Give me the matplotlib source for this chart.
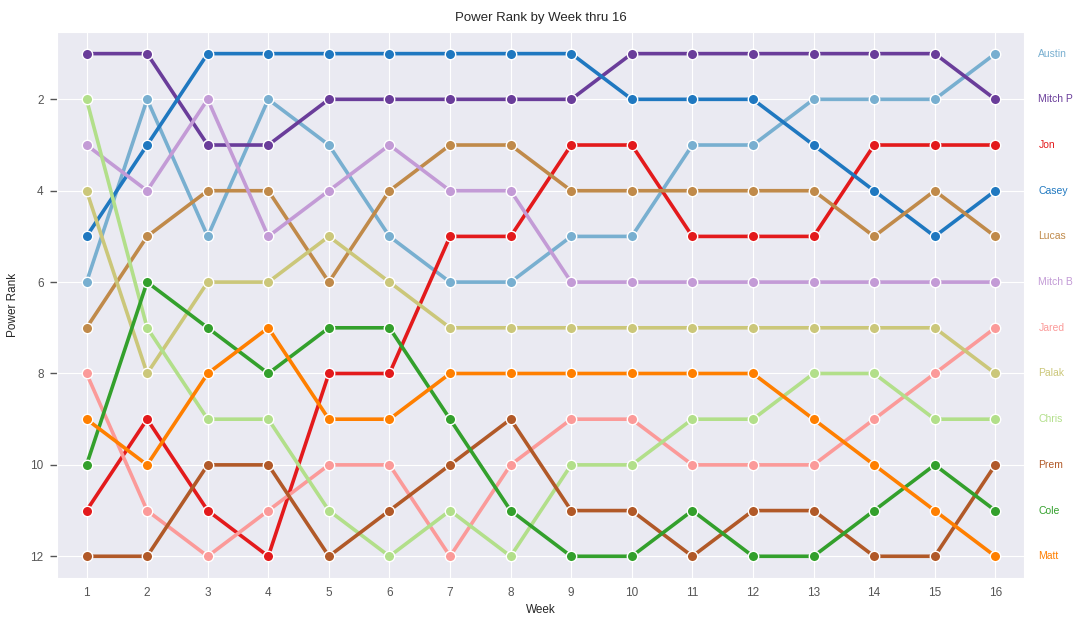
import matplotlib
matplotlib.use("Agg")
import matplotlib.pyplot as plt
import seaborn as sns

weeks = list(range(1, 17))

austin = [6, 2, 5, 2, 3, 5, 6, 6, 5, 5, 3, 3, 2, 2, 2, 1]
mitch_p = [1, 1, 3, 3, 2, 2, 2, 2, 2, 1, 1, 1, 1, 1, 1, 2]
jon = [11, 9, 11, 12, 8, 8, 5, 5, 3, 3, 5, 5, 5, 3, 3, 3]
casey = [5, 3, 1, 1, 1, 1, 1, 1, 1, 2, 2, 2, 3, 4, 5, 4]
lucas = [7, 5, 4, 4, 6, 4, 3, 3, 4, 4, 4, 4, 4, 5, 4, 5]
mitch_b = [3, 4, 2, 5, 4, 3, 4, 4, 6, 6, 6, 6, 6, 6, 6, 6]
jared = [8, 11, 12, 11, 10, 10, 12, 10, 9, 9, 10, 10, 10, 9, 8, 7]
palak = [4, 8, 6, 6, 5, 6, 7, 7, 7, 7, 7, 7, 7, 7, 7, 8]
chris = [2, 7, 9, 9, 11, 12, 11, 12, 10, 10, 9, 9, 8, 8, 9, 9]
prem = [12, 12, 10, 10, 12, 11, 10, 9, 11, 11, 12, 11, 11, 12, 12, 10]
cole = [10, 6, 7, 8, 7, 7, 9, 11, 12, 12, 11, 12, 12, 11, 10, 11]
matt = [9, 10, 8, 7, 9, 9, 8, 8, 8, 8, 8, 8, 9, 10, 11, 12]

players = ["Austin", "Mitch P", "Jon", "Casey", "Lucas", "Mitch B",
           "Jared", "Palak", "Chris", "Prem", "Cole", "Matt"]
ranks = [austin, mitch_p, jon, casey, lucas, mitch_b,
         jared, palak, chris, prem, cole, matt]
colors = ["#78afd0", "#6a3d9a", "#e31a1c", "#1f78c0", "#c08a4a", "#c39bd6",
          "#fb9a99", "#cbc77a", "#b2df8a", "#b15928", "#33a02c", "#ff7f00"]

sns.set_style("darkgrid")
plt.rcParams["font.family"] = ["Liberation Sans", "DejaVu Sans"]

fig, ax = plt.subplots(figsize=(10.84, 6.34), dpi=100)
fig.subplots_adjust(left=0.053, right=0.945, top=0.95, bottom=0.088)

for name, r, c in zip(players, ranks, colors):
    ax.plot(weeks, r, color=c, lw=2.6, marker="o", ms=7.5,
            mec="white", mew=1.0, zorder=3)
    ax.text(16.71, r[-1], name, color=c, fontsize=7.5, va="center", ha="left")

ax.set_xlim(0.52, 16.48)
ax.set_ylim(12.48, 0.52)
ax.set_xticks(weeks)
ax.set_yticks([2, 4, 6, 8, 10, 12])
ax.tick_params(axis="both", labelsize=8.5, labelcolor="#555555", colors="#555555")
ax.tick_params(axis="y", left=True, length=5, width=1, pad=5)
ax.tick_params(axis="x", length=0, pad=6)
ax.set_xlabel("Week", fontsize=8.5)
ax.set_ylabel("Power Rank", fontsize=8.5, labelpad=8)
ax.set_title("Power Rank by Week thru 16", fontsize=9.5, pad=8)

fig.savefig("out.png", dpi=100)
